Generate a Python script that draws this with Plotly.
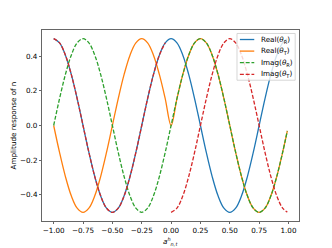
import plotly.graph_objects as go

# sample positions along the horizontal axis
x_vals = [-1.00, -0.95, -0.90, -0.85, -0.80, -0.75, -0.70, -0.65, -0.60, -0.55,
          -0.50, -0.45, -0.40, -0.35, -0.30, -0.25, -0.20, -0.15, -0.10, -0.05,
          0.00, 0.05, 0.10, 0.15, 0.20, 0.25, 0.30, 0.35, 0.40, 0.45,
          0.50, 0.55, 0.60, 0.65, 0.70, 0.75, 0.80, 0.85, 0.90, 0.95, 0.99]

real_theta_r = [0.500, 0.476, 0.405, 0.294, 0.155, 0.000, -0.155, -0.294, -0.405, -0.476,
                -0.500, -0.476, -0.405, -0.294, -0.155, 0.000, 0.155, 0.294, 0.405, 0.476,
                0.500, 0.476, 0.405, 0.294, 0.155, 0.000, -0.155, -0.294, -0.405, -0.476,
                -0.500, -0.476, -0.405, -0.294, -0.155, 0.000, 0.155, 0.294, 0.405, 0.476, 0.499]

real_theta_t = [0.000, -0.155, -0.294, -0.405, -0.476, -0.500, -0.476, -0.405, -0.294, -0.155,
                0.000, 0.155, 0.294, 0.405, 0.476, 0.500, 0.476, 0.405, 0.294, 0.155,
                0.000, 0.155, 0.294, 0.405, 0.476, 0.500, 0.476, 0.405, 0.294, 0.155,
                0.000, -0.155, -0.294, -0.405, -0.476, -0.500, -0.476, -0.405, -0.294, -0.155, -0.031]

imag_theta_r = [0.000, 0.155, 0.294, 0.405, 0.476, 0.500, 0.476, 0.405, 0.294, 0.155,
                0.000, -0.155, -0.294, -0.405, -0.476, -0.500, -0.476, -0.405, -0.294, -0.155,
                0.000, 0.155, 0.294, 0.405, 0.476, 0.500, 0.476, 0.405, 0.294, 0.155,
                0.000, -0.155, -0.294, -0.405, -0.476, -0.500, -0.476, -0.405, -0.294, -0.155, -0.031]

# Imag(theta_T): two separate pieces (no joining segment at 0)
imag_t_left_x = [-1.00, -0.95, -0.90, -0.85, -0.80, -0.75, -0.70, -0.65, -0.60, -0.55,
                 -0.50, -0.45, -0.40, -0.35, -0.30, -0.25, -0.20, -0.15, -0.10, -0.05]
imag_t_left_y = [0.500, 0.476, 0.405, 0.294, 0.155, 0.000, -0.155, -0.294, -0.405, -0.476,
                 -0.500, -0.476, -0.405, -0.294, -0.155, 0.000, 0.155, 0.294, 0.405, 0.476]
imag_t_right_x = [0.00, 0.05, 0.10, 0.15, 0.20, 0.25, 0.30, 0.35, 0.40, 0.45,
                  0.50, 0.55, 0.60, 0.65, 0.70, 0.75, 0.80, 0.85, 0.90, 0.95, 0.99]
imag_t_right_y = [-0.500, -0.476, -0.405, -0.294, -0.155, 0.000, 0.155, 0.294, 0.405, 0.476,
                  0.500, 0.476, 0.405, 0.294, 0.155, 0.000, -0.155, -0.294, -0.405, -0.476, -0.499]

series_names = ["Real(<i>θ</i><sub>R</sub>)", "Real(<i>θ</i><sub>T</sub>)",
                "Imag(<i>θ</i><sub>R</sub>)", "Imag(<i>θ</i><sub>T</sub>)"]
series_colors = ["#1f77b4", "#ff7f0e", "#2ca02c", "#d62728"]
series_dashes = ["solid", "solid", "4px,1.8px", "4px,1.8px"]

x_ticks = [-1.0, -0.75, -0.5, -0.25, 0.0, 0.25, 0.5, 0.75, 1.0]
y_ticks = [-0.4, -0.2, 0.0, 0.2, 0.4]
x_title = "<i>a</i><sup><i>h</i></sup><sub><i>n,t</i></sub>"
y_title = "Amplitude response of n"

FONT = "DejaVu Sans"
FS = 7.2
LW = 1.3

fig = go.Figure()
series_x = [x_vals, x_vals, x_vals, imag_t_left_x + [None] + imag_t_right_x]
series_y = [real_theta_r, real_theta_t, imag_theta_r, imag_t_left_y + [None] + imag_t_right_y]
for xs, ys, nm, col, ds in zip(series_x, series_y, series_names, series_colors, series_dashes):
    fig.add_trace(go.Scatter(x=xs, y=ys, mode="lines", line_shape="spline",
                             connectgaps=False, showlegend=False,
                             line=dict(color=col, width=LW, dash=ds), name=nm))

axis_common = dict(showgrid=False, zeroline=False, showline=True, mirror=True,
                   linecolor="black", linewidth=0.6, ticks="outside", ticklen=2.5,
                   tickwidth=0.6, tickcolor="black", automargin=False,
                   tickfont=dict(family=FONT, size=FS, color="black"))

fig.update_xaxes(range=[-1.0995, 1.0895], tickvals=x_ticks, tickformat=".2f",
                 **axis_common)
fig.update_yaxes(range=[-0.55, 0.55], tickvals=y_ticks, tickformat=".1f",
                 title=dict(text=y_title,
                            font=dict(family=FONT, size=FS, color="black"), standoff=2),
                 **axis_common)

# compact matplotlib-style legend (box, sample lines, labels) in paper coordinates
leg_box = dict(x0=0.7587, x1=0.9852, y0=0.737, y1=0.9817)
leg_line_x = (0.7699, 0.8259)
leg_text_x = 0.8484
leg_rows = [0.9502, 0.8895, 0.8287, 0.7679]

shapes = [dict(type="rect", xref="paper", yref="paper", layer="above",
               line=dict(color="#cccccc", width=0.8), fillcolor="rgba(255,255,255,0.8)",
               **leg_box)]
annotations = [dict(xref="paper", yref="paper", x=0.5, y=-0.106,
                    xanchor="center", yanchor="middle", showarrow=False,
                    text=x_title, borderpad=0,
                    font=dict(family=FONT, size=FS, color="black"))]
for yy, nm, col, ds in zip(leg_rows, series_names, series_colors, series_dashes):
    shapes.append(dict(type="line", xref="paper", yref="paper", layer="above",
                       x0=leg_line_x[0], x1=leg_line_x[1], y0=yy, y1=yy,
                       line=dict(color=col, width=LW, dash=ds)))
    annotations.append(dict(xref="paper", yref="paper", x=leg_text_x, y=yy,
                            xanchor="left", yanchor="middle", showarrow=False,
                            text=nm, borderpad=0,
                            font=dict(family=FONT, size=FS, color="black")))

fig.update_layout(
    width=332, height=248,
    margin=dict(l=41.5, r=33.2, t=29.8, b=27.3, pad=0, autoexpand=False),
    paper_bgcolor="white", plot_bgcolor="white",
    font=dict(family=FONT, size=FS, color="black"),
    showlegend=False,
    shapes=shapes, annotations=annotations,
    hovermode=False,
)

fig.write_html("out.html",
               config={"displayModeBar": False, "staticPlot": True},
               post_script="document.body.style.margin='0px';document.body.style.overflow='hidden';")
